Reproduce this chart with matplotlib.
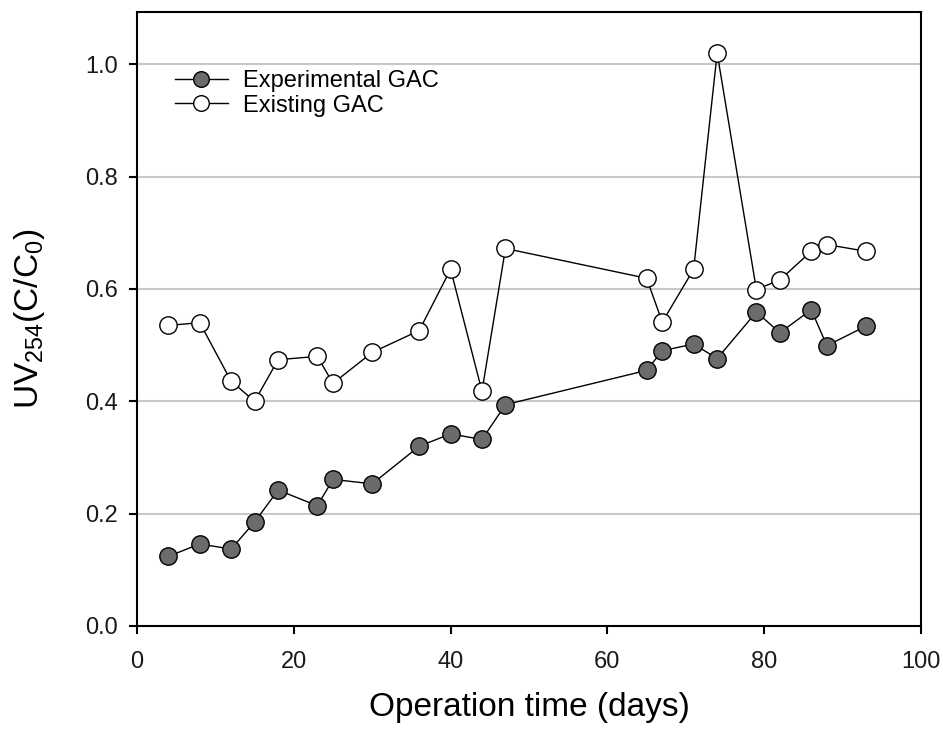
import matplotlib
matplotlib.use("Agg")
import matplotlib.pyplot as plt

# operation time (days)
days = [4, 8, 12, 15, 18, 23, 25, 30, 36, 40, 44, 47, 65, 67, 71, 74, 79, 82, 86, 88, 93]

# UV254 C/C0
experimental = [0.124, 0.146, 0.137, 0.185, 0.242, 0.214, 0.261, 0.253, 0.320, 0.342, 0.332,
                0.394, 0.455, 0.490, 0.502, 0.476, 0.559, 0.522, 0.563, 0.499, 0.534]
existing = [0.535, 0.540, 0.436, 0.400, 0.474, 0.480, 0.432, 0.487, 0.526, 0.635, 0.418,
            0.672, 0.619, 0.541, 0.635, 1.020, 0.599, 0.616, 0.667, 0.679, 0.667]

plt.rcParams['font.family'] = ['Liberation Sans', 'DejaVu Sans']
plt.rcParams['mathtext.default'] = 'regular'

fig = plt.figure(figsize=(9.43, 7.34), dpi=100)
ax = fig.add_axes([137 / 943, 108 / 734, 784 / 943, 614 / 734])

for y in [0.2, 0.4, 0.6, 0.8, 1.0]:
    ax.axhline(y, color='#c8c8c8', lw=1.5, zorder=0)

ax.plot(days, experimental, '-o', color='black', lw=1, ms=12.5,
        mfc='#6b6b6b', mec='black', mew=1, label='Experimental GAC', zorder=3)
ax.plot(days, existing, '-o', color='black', lw=1, ms=12.5,
        mfc='white', mec='black', mew=1, label='Existing GAC', zorder=3)

ax.set_xlim(0, 100)
ax.set_ylim(0, 1.093)
ax.set_xticks([0, 20, 40, 60, 80, 100])
ax.set_yticks([0.0, 0.2, 0.4, 0.6, 0.8, 1.0])
ax.set_yticklabels(['0.0', '0.2', '0.4', '0.6', '0.8', '1.0'])
ax.tick_params(direction='out', length=6, width=1.5, labelsize=17, colors='black',
               labelcolor='#1a1a1a')
ax.tick_params(axis='x', pad=12)
ax.tick_params(axis='y', pad=8)
for s in ax.spines.values():
    s.set_linewidth(1.5)

ax.set_xlabel('Operation time (days)', fontsize=24, labelpad=14)
ax.set_ylabel('UV$_{254}$(C/C$_0$)', fontsize=24, labelpad=27)

ax.legend(loc='upper left', bbox_to_anchor=(0.048, 0.905), frameon=False, fontsize=17,
          handlelength=2.25, handletextpad=0.64, labelspacing=0.1, numpoints=1,
          borderpad=0, borderaxespad=0, markerscale=0.9)

fig.savefig('out.png', dpi=100)
